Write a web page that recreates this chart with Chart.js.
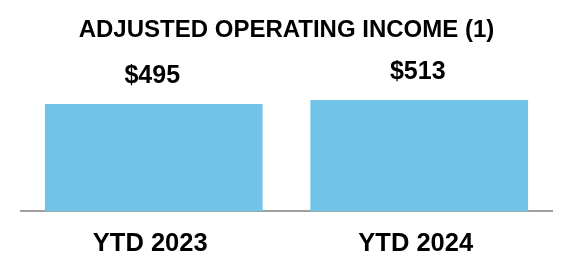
<!DOCTYPE html>
<html>
<head>
<meta charset="utf-8">
<script src="https://cdn.jsdelivr.net/npm/chart.js@4"></script>
<style>
  html, body { margin: 0; padding: 0; background: #fff; }
  #wrap { width: 572px; height: 280px; }
</style>
</head>
<body>
<div id="wrap"><canvas id="chart" width="572" height="280"></canvas></div>
<script>
const categories = ["YTD 2023", "YTD 2024"];
const values = [495, 513];
const valueLabels = ["$495", "$513"];
const chartTitle = "ADJUSTED OPERATING INCOME (1)";

// value labels above the bars
const barLabels = {
  id: "barLabels",
  afterDatasetsDraw(chart) {
    const ctx = chart.ctx;
    const meta = chart.getDatasetMeta(0);
    ctx.save();
    ctx.font = "bold 25px 'Liberation Sans', Arial, sans-serif";
    ctx.fillStyle = "#000";
    ctx.textAlign = "center";
    ctx.textBaseline = "alphabetic";
    meta.data.forEach((bar, i) => {
      ctx.fillText(valueLabels[i], bar.x - 1.5, bar.y - 21);
    });
    ctx.restore();
  }
};

new Chart(document.getElementById("chart"), {
  type: "bar",
  data: {
    labels: categories,
    datasets: [
      {
        data: values,
        backgroundColor: "#71c4e8",
        borderWidth: 0,
        barPercentage: 1,
        categoryPercentage: 0.82
      }
    ]
  },
  options: {
    responsive: false,
    animation: false,
    layout: { padding: { left: 21, right: 20, top: 0, bottom: 4 } },
    plugins: {
      legend: { display: false },
      tooltip: { enabled: false },
      title: {
        display: true,
        text: chartTitle,
        color: "#000",
        font: { family: "'Liberation Sans', Arial, sans-serif", size: 24, weight: "bold", lineHeight: 1.2 },
        padding: { top: 16, bottom: 10 }
      }
    },
    scales: {
      x: {
        grid: { display: false, drawTicks: false },
        border: { display: true, color: "#a0a0a0", width: 2 },
        ticks: {
          color: "#000",
          padding: 17,
          labelOffset: -3.5,
          font: { family: "'Liberation Sans', Arial, sans-serif", size: 25.5, weight: "bold", lineHeight: 1.2 }
        }
      },
      y: {
        display: false,
        min: 0,
        max: 721
      }
    }
  },
  plugins: [barLabels]
});
</script>
</body>
</html>
